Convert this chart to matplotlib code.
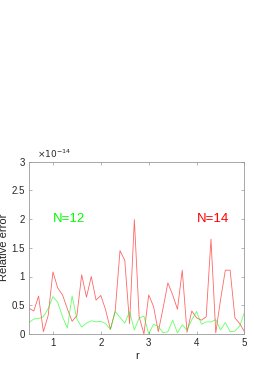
import numpy as np
import matplotlib
matplotlib.use("Agg")
import matplotlib.pyplot as plt
from matplotlib.ticker import FuncFormatter

plt.rcParams['font.family'] = ['Liberation Sans', 'DejaVu Sans']

# r values and relative errors (in units of 1e-14)
r = np.round(np.arange(0.5, 5.0001, 0.1), 2)
err_n14 = [0.45, 0.40, 0.66, 0.04, 0.32, 1.08, 0.80, 0.68, 0.44, 0.22,
           0.32, 1.03, 0.64, 1.00, 0.59, 0.67, 0.42, 0.08, 0.40, 1.45,
           1.28, 0.18, 1.99, 0.30, 0.00, 0.68, 0.48, 0.04, 0.45, 0.89,
           0.68, 0.43, 1.11, 0.03, 0.40, 0.28, 0.24, 0.30, 1.65, 0.02,
           0.60, 1.11, 1.11, 0.28, 0.18, 0.04]
err_n12 = [0.20, 0.26, 0.27, 0.30, 0.44, 0.65, 0.55, 0.30, 0.10, 0.66,
           0.26, 0.12, 0.19, 0.23, 0.21, 0.22, 0.18, 0.08, 0.39, 0.29,
           0.19, 0.39, 0.07, 0.28, 0.31, 0.00, 0.17, 0.13, 0.02, 0.04,
           0.24, 0.02, 0.16, 0.07, 0.25, 0.39, 0.17, 0.21, 0.21, 0.25,
           0.07, 0.20, 0.04, 0.05, 0.14, 0.38]
yticks = [0, 0.5, 1, 1.5, 2, 2.5, 3]
xticks = [1, 2, 3, 4, 5]

fig = plt.figure(figsize=(2.55, 3.73), dpi=100)
ax = fig.add_axes([29/255, 39/373, 215.5/255, 172.5/373])

ax.plot(r, err_n14, color='#ff0000', lw=0.6, alpha=0.6)
ax.plot(r, err_n12, color='#00ff00', lw=0.6, alpha=0.6)

ax.set_xlim(0.5, 5)
ax.set_ylim(0, 3)
ax.set_xticks(xticks)
ax.set_yticks(yticks)
ax.yaxis.set_major_formatter(FuncFormatter(lambda v, p: '%g' % v))

for s in ax.spines.values():
    s.set_color('#999999')
    s.set_linewidth(0.6)
ax.tick_params(direction='in', length=2.5, width=0.5, color='#999999',
               labelsize=7, labelcolor='#262626', top=True, right=True, pad=3)

# exponent label, MATLAB style
ax.text(0.035, 1.008, r'$\times10^{-14}$', transform=ax.transAxes,
        fontsize=6.5, color='#262626', va='bottom', ha='left')

ax.text(1.0, 2.0, 'N=12', color='#00ff00', fontsize=9.5, va='center')
ax.text(4.0, 2.0, 'N=14', color='#ff0000', fontsize=9.5, va='center')

ax.set_xlabel('r', fontsize=8, color='#262626', labelpad=2)
ax.set_ylabel('Relative error', fontsize=8, color='#262626')
ax.yaxis.set_label_coords(-0.095, 0.5)

fig.savefig('out.png', dpi=100)
